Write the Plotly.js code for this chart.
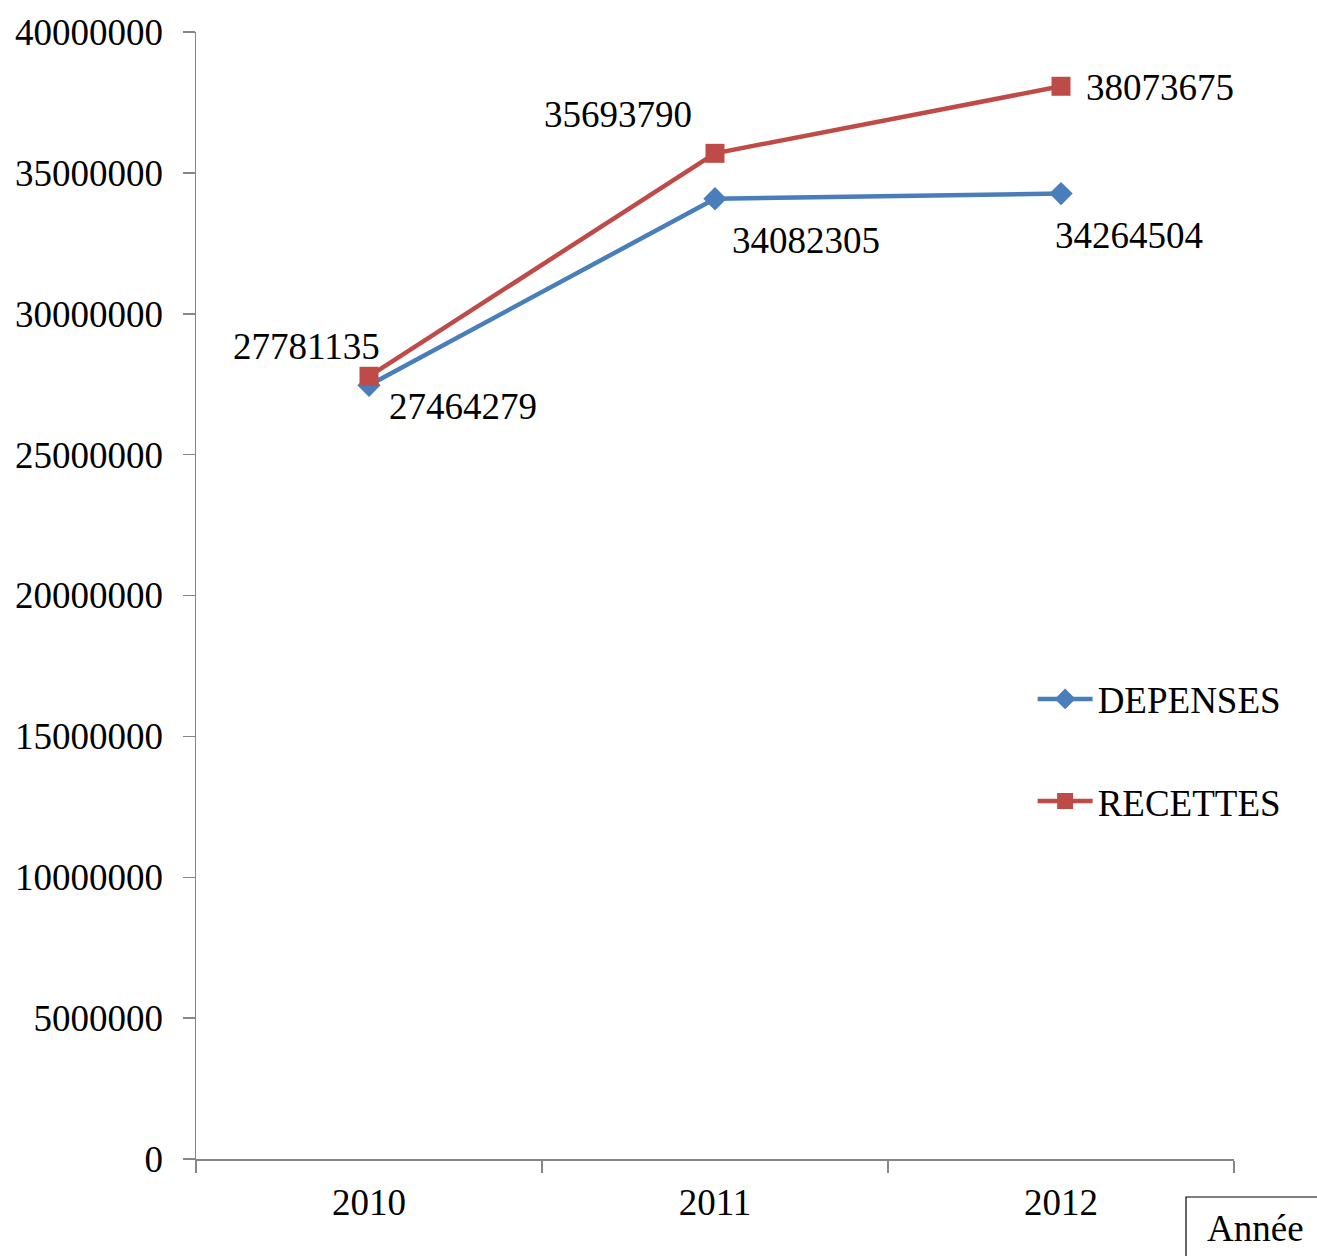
<!DOCTYPE html>
<html>
<head>
<meta charset="utf-8">
<script src="https://cdn.plot.ly/plotly-3.0.1.min.js"></script>
<style>html,body{margin:0;padding:0;background:#fff;}#chart{width:1317px;height:1256px;}</style>
</head>
<body>
<div id="chart"></div>
<script>
const years = ['2010', '2011', '2012'];
const depenses = [27464279, 34082305, 34264504];
const recettes = [27781135, 35693790, 38073675];
const yTickVals = [0, 5000000, 10000000, 15000000, 20000000, 25000000, 30000000, 35000000, 40000000];

const FONT = 'Liberation Serif, Times New Roman, serif';
const blue = '#4A7EBB';
const red = '#BE4B48';

const traces = [
  {x: years, y: depenses, name: 'DEPENSES', type: 'scatter', mode: 'lines+markers',
   legendgroup: 'a',
   line: {color: blue, width: 4.5}, marker: {symbol: 'diamond', size: 18, color: blue}},
  {x: years, y: recettes, name: 'RECETTES', type: 'scatter', mode: 'lines+markers',
   legendgroup: 'b',
   line: {color: red, width: 4.5}, marker: {symbol: 'square', size: 19, color: red}}
];

const depOff = [[94, -21], [91, -42], [68, -42]];
const recOff = [[-63, 30], [-97, 39], [99, -1]];
const annotations = [];
years.forEach((yr, i) => {
  annotations.push({x: i, y: depenses[i], xref: 'x', yref: 'y', text: String(depenses[i]),
    xanchor: 'center', yanchor: 'middle',
    showarrow: false, xshift: depOff[i][0], yshift: depOff[i][1], font: {family: FONT, size: 37, color: '#000'}});
  annotations.push({x: i, y: recettes[i], xref: 'x', yref: 'y', text: String(recettes[i]),
    xanchor: 'center', yanchor: 'middle',
    showarrow: false, xshift: recOff[i][0], yshift: recOff[i][1], font: {family: FONT, size: 37, color: '#000'}});
});

const layout = {
  width: 1317, height: 1256,
  margin: {l: 196, r: 83, t: 32, b: 97},
  paper_bgcolor: '#fff', plot_bgcolor: '#fff',
  font: {family: FONT, size: 37, color: '#000'},
  showlegend: true,
  legend: {x: 0.806, y: 0.4353, xanchor: 'left', yanchor: 'top', tracegroupgap: 51,
    font: {family: FONT, size: 37, color: '#000'}, bgcolor: 'rgba(0,0,0,0)', itemwidth: 55},
  xaxis: {type: 'category', range: [-0.5, 2.5], showgrid: false, zeroline: false,
    showline: true, linecolor: '#868686', linewidth: 1.5,
    ticks: 'outside', tickson: 'boundaries', ticklen: 12, tickcolor: '#868686', tickwidth: 1.5,
    tickfont: {family: FONT, size: 37, color: '#000'}, ticklabelstandoff: 10},
  yaxis: {range: [0, 40000000], tickvals: yTickVals, ticktext: yTickVals.map(String),
    showgrid: false, zeroline: false,
    showline: true, linecolor: '#868686', linewidth: 1.5,
    ticks: 'outside', ticklen: 12, tickcolor: '#868686', tickwidth: 1.5,
    tickfont: {family: FONT, size: 37, color: '#000'}, ticklabelstandoff: 12},
  shapes: [
    {type: 'rect', xref: 'paper', yref: 'paper', x0: (1186 - 196) / 1038, x1: (1330 - 196) / 1038,
     y0: (1159 - 1270) / 1127, y1: (1159 - 1197) / 1127, line: {color: '#000', width: 1.2}}
  ],
  annotations: annotations.concat([
    {xref: 'paper', yref: 'paper', x: (1255 - 196) / 1038, y: (1159 - 1229) / 1127,
     xanchor: 'center', yanchor: 'middle',
     text: 'Année', showarrow: false, font: {family: FONT, size: 37, color: '#000'}}
  ])
};

Plotly.newPlot('chart', traces, layout, {staticPlot: true, displayModeBar: false});
</script>
</body>
</html>
